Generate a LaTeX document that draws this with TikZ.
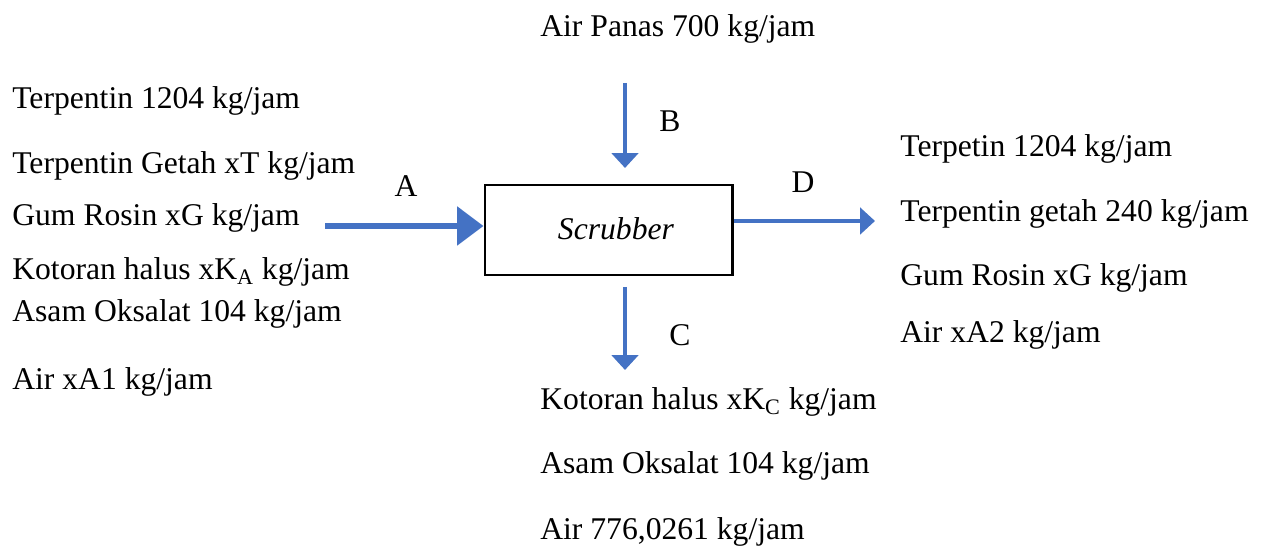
\documentclass[tikz,border=0pt]{standalone}
\usepackage{fontspec}
\setmainfont{Liberation Serif}
\usetikzlibrary{arrows.meta}
\definecolor{arus}{HTML}{4472C4}

\begin{document}
\fontsize{18}{22}\selectfont
\begin{tikzpicture}[x=0.02cm,y=-0.02cm,line cap=butt,
  teks/.style={anchor=base west,inner sep=0pt},
  huruf/.style={anchor=base,inner sep=0pt},
  arus/.style={draw=arus,line width=2.3pt,-{Triangle[length=8.5pt,width=15pt]}}]
  \useasboundingbox (0,0) rectangle (1271,546);
  % alat scrubber
  \node[draw,line width=1.7pt,minimum width=247*0.02cm,minimum height=90*0.02cm,
    inner sep=0pt] (scrubber) at (608.5,230) {};
  \node[huruf] (lblS) at (616,240) {\textit{Scrubber}};
  % aliran A (masuk)
  \node[teks] (a1) at (12,109) {Terpentin 1204 kg/jam};
  \node[teks] (a2) at (12,174) {Terpentin Getah xT kg/jam};
  \node[teks] (a3) at (12,226) {Gum Rosin xG kg/jam};
  \node[teks] (a4) at (12,280) {Kotoran halus xK\textsubscript{A} kg/jam};
  \node[teks] (a5) at (12,322) {Asam Oksalat 104 kg/jam};
  \node[teks] (a6) at (12,390) {Air xA1 kg/jam};
  \node[huruf] (lblA) at (406,197) {A};
  \coordinate (a0) at (325,226);
  \draw[arus,line width=3.4pt,-{Triangle[length=15pt,width=21.5pt]}] (a0) -- (a0 -| scrubber.west);
  % aliran B (air panas)
  \node[teks] (b1) at (540,37) {Air Panas 700 kg/jam};
  \node[huruf] (lblB) at (670,132) {B};
  \coordinate (b0) at (625,83);
  \coordinate (b2) at (625,168);
  \draw[arus] (b0) -- (b2);
  % aliran C (bawah)
  \coordinate (c0) at (625,287);
  \coordinate (c2) at (625,370);
  \draw[arus] (c0) -- (c2);
  \node[huruf] (lblC) at (680,346) {C};
  \node[teks] (c3) at (540,410) {Kotoran halus xK\textsubscript{C} kg/jam};
  \node[teks] (c4) at (540,474) {Asam Oksalat 104 kg/jam};
  \node[teks] (c5) at (540,540) {Air 776,0261 kg/jam};
  % aliran D (keluar)
  \coordinate (d0) at (875,221);
  \draw[arus] (d0 -| scrubber.east) -- (d0);
  \node[huruf] (lblD) at (803,193) {D};
  \node[teks] (d1) at (900,157) {Terpetin 1204 kg/jam};
  \node[teks] (d2) at (900,222) {Terpentin getah 240 kg/jam};
  \node[teks] (d3) at (900,286) {Gum Rosin xG kg/jam};
  \node[teks] (d4) at (900,343) {Air xA2 kg/jam};
\end{tikzpicture}
\end{document}
